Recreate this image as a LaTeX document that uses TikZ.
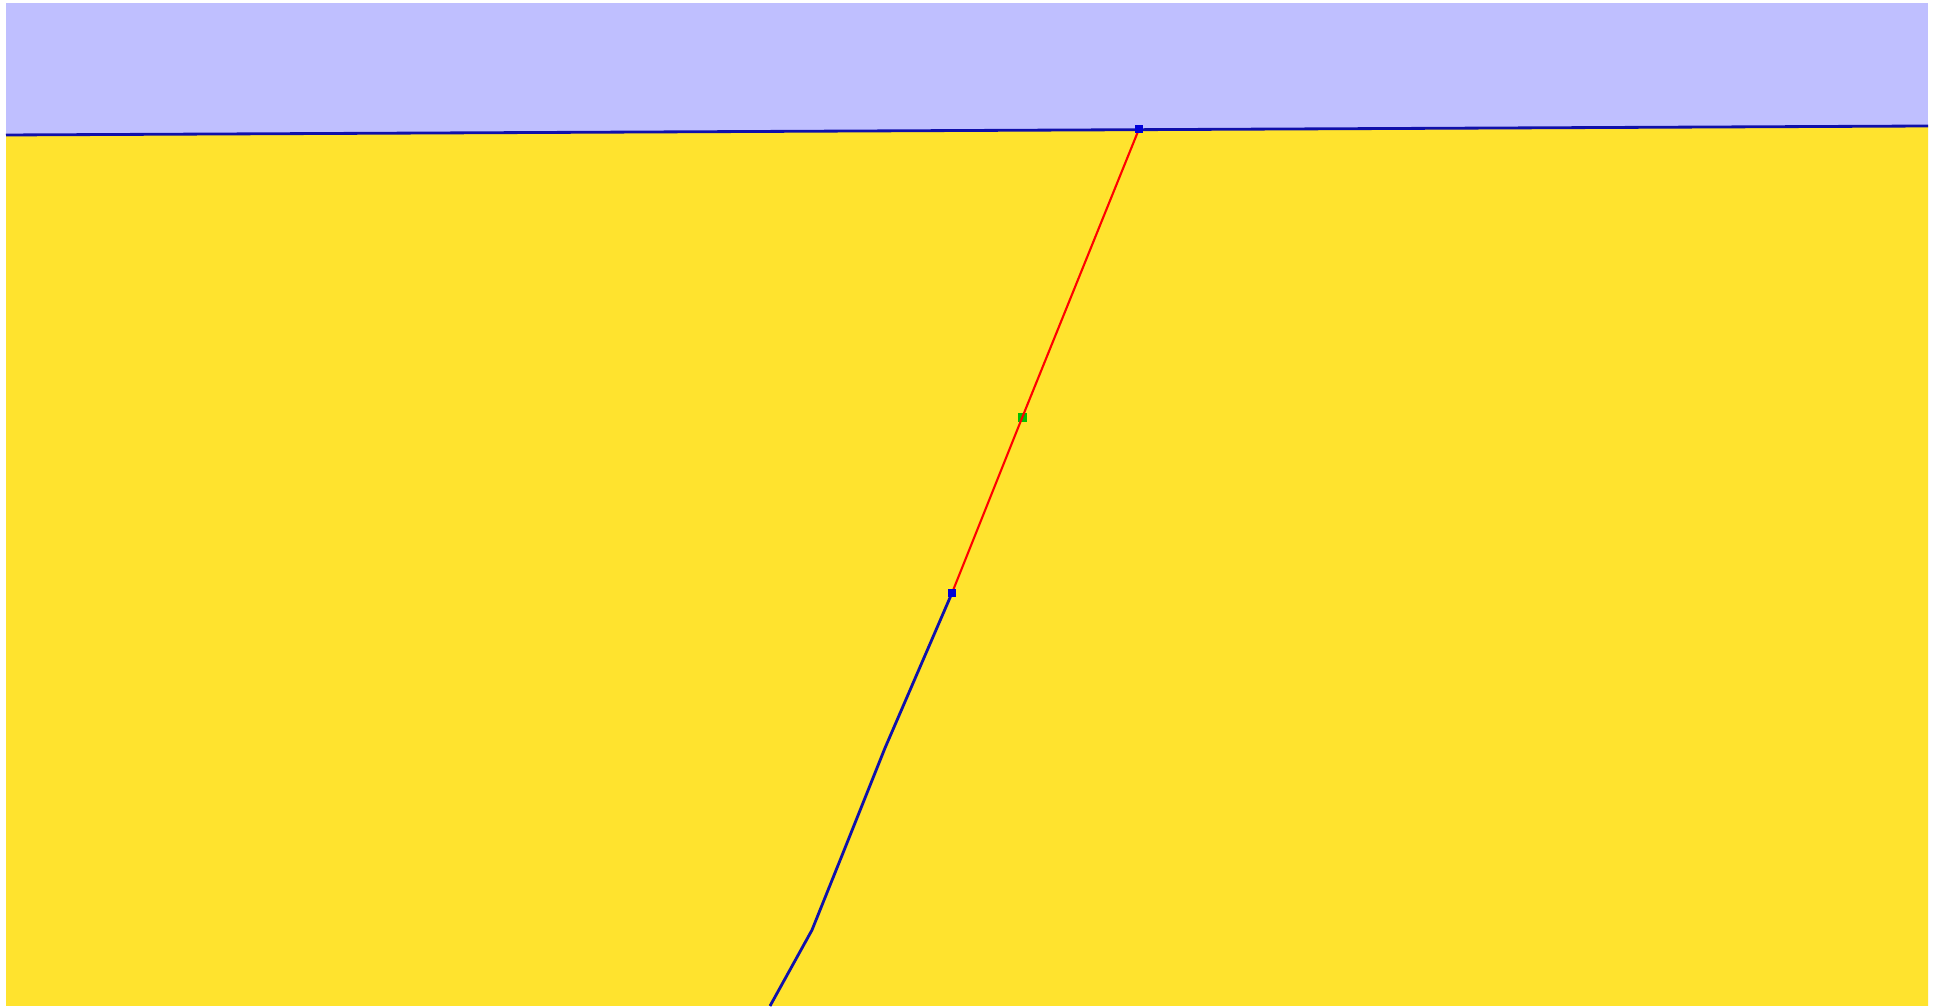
\documentclass[tikz,border=0pt]{standalone}
\definecolor{skyblue}{RGB}{191,191,255}
\definecolor{rockyellow}{RGB}{255,227,46}
\definecolor{linenavy}{RGB}{16,16,170}
\begin{document}
\begin{tikzpicture}[x=0.01cm,y=-0.01cm,
    vtx/.style={draw=none,fill=blue!85!black,minimum size=0.08cm,inner sep=0pt},
    mid/.style={draw=none,fill=green!75!black,minimum size=0.09cm,inner sep=0pt},
    trace/.style={linenavy,line width=0.8pt},
    fault/.style={red,line width=0.6pt}]
    \useasboundingbox (0,0) rectangle (1939,1007);
    \fill[white] (0,0) rectangle (1939,1007);
    % sky and ground
    \fill[skyblue] (6,3) rectangle (1928,135);
    \fill[rockyellow] (6,135) -- (1928,126) -- (1928,1006) -- (6,1006) -- cycle;
    \coordinate (sl) at (6,135);
    \coordinate (sr) at (1928,126);
    \coordinate (k1) at (885,748);
    \coordinate (k2) at (845,848);
    \coordinate (k3) at (812,930);
    \coordinate (bot) at (770,1006);
    \draw[trace] (sl) -- (sr);
    \node[vtx] (top) at (1139,129) {};
    \node[mid] (half) at (1022,418) {};
    \node[vtx] (tip) at (952,593) {};
    \draw[fault] (top.center) -- (half.center) -- (tip.center);
    \draw[trace] (tip.center) -- (k1) -- (k2) -- (k3) -- (bot);
    \node[vtx] at (top) {};
    \node[vtx] at (tip) {};
\end{tikzpicture}
\end{document}
